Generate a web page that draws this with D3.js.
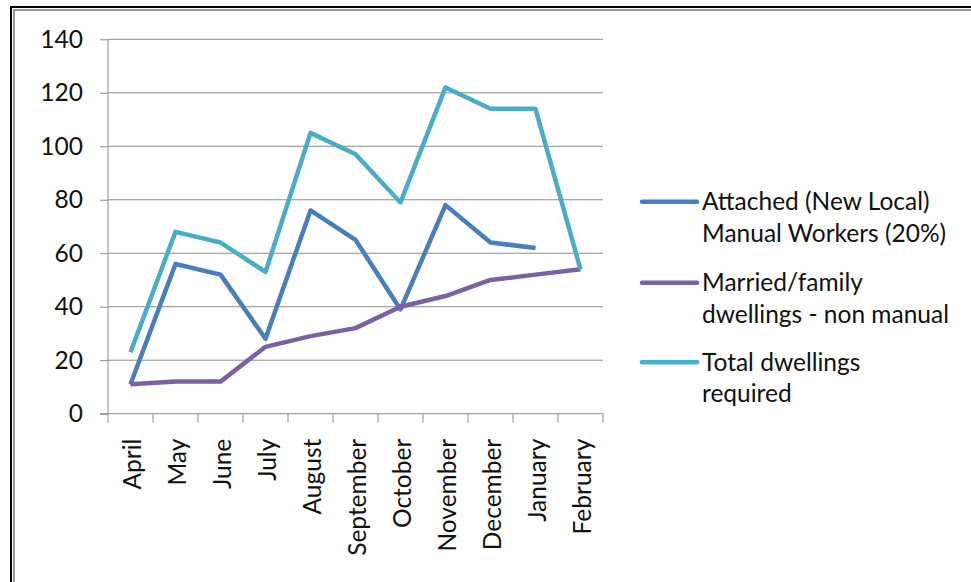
<!DOCTYPE html>
<html>
<head>
<meta charset="utf-8">
<script src="https://cdn.jsdelivr.net/npm/d3@7"></script>
<style>
  body { margin: 0; background: #fff; }
  text { font-family: Lato, "Open Sans", sans-serif; fill: #111; }
</style>
</head>
<body>
<script>
const w = 971;
const h = 582;

const months = ["April", "May", "June", "July", "August", "September",
                "October", "November", "December", "January", "February"];
const attached = [11, 56, 52, 28, 76, 65, 39, 78, 64, 62, null];
const married  = [11, 12, 12, 25, 29, 32, 40, 44, 50, 52, 54];
const total    = [23, 68, 64, 53, 105, 97, 79, 122, 114, 114, 54];
const yTicks = [0, 20, 40, 60, 80, 100, 120, 140];

const series = [
  { name: ["Attached (New Local)", "Manual Workers (20%)"], values: attached, color: "#4a7ebb" },
  { name: ["Married/family", "dwellings - non manual"], values: married, color: "#7d60a0" },
  { name: ["Total dwellings", "required"], values: total, color: "#4bacc6" }
];

const plotLeft = 108, plotRight = 603, plotTop = 39.3, plotBottom = 413.7;
const fontSize = "24.5px";

const xScale = d3.scaleBand()
                 .domain(months)
                 .range([plotLeft, plotRight]);

const yScale = d3.scaleLinear()
                 .domain([0, 140])
                 .range([plotBottom, plotTop]);

const svg = d3.select("body")
              .append("svg")
              .attr("width", w)
              .attr("height", h);

// frame
svg.append("path").attr("d", "M11,582 V7 H971").attr("fill", "none")
   .attr("stroke", "#000").attr("stroke-width", 2);
svg.append("path").attr("d", "M14,582 V10 H971").attr("fill", "none")
   .attr("stroke", "#999").attr("stroke-width", 2);

// gridlines
svg.append("g")
   .selectAll("line")
   .data(yTicks.filter(d => d > 0))
   .enter()
   .append("line")
   .attr("x1", plotLeft).attr("x2", plotRight)
   .attr("y1", d => yScale(d)).attr("y2", d => yScale(d))
   .attr("stroke", "#8c8c8c").attr("stroke-width", 1);

const yAxis = d3.axisLeft(yScale).tickValues(yTicks).tickSize(8).tickPadding(17);
const gy = svg.append("g")
   .attr("id", "y-axis")
   .attr("transform", "translate(" + plotLeft + ",0)")
   .call(yAxis);
gy.selectAll("line, path").attr("stroke", "#8c8c8c");
gy.select(".domain").attr("d", "M0," + plotTop + "V" + plotBottom);
gy.selectAll("text").style("font-size", fontSize).attr("fill", "#111");

const xAxis = d3.axisBottom(xScale).tickSize(0).tickFormat("");
const gx = svg.append("g")
   .attr("id", "x-axis")
   .attr("transform", "translate(0," + plotBottom + ")")
   .call(xAxis);
gx.select(".domain").attr("d", "M" + (plotLeft - 8) + ",0H" + plotRight).attr("stroke", "#8c8c8c");

// x tick marks at band edges
svg.append("g")
   .selectAll("line")
   .data(months.concat(["end"]))
   .enter()
   .append("line")
   .attr("x1", (d, i) => plotLeft + i * xScale.step())
   .attr("x2", (d, i) => plotLeft + i * xScale.step())
   .attr("y1", plotBottom).attr("y2", plotBottom + 9)
   .attr("stroke", "#8c8c8c");

svg.append("g")
   .selectAll("text")
   .data(months)
   .enter()
   .append("text")
   .attr("transform", d => "translate(" + (xScale(d) + xScale.bandwidth() / 2 + 2) + "," + (plotBottom + 25) + ") rotate(-90)")
   .attr("text-anchor", "end")
   .attr("dy", "0.35em")
   .style("font-size", fontSize)
   .text(d => d);

const line = d3.line()
               .defined(d => d != null)
               .x((d, i) => xScale(months[i]) + xScale.bandwidth() / 2)
               .y(d => yScale(d));

svg.append("g")
   .selectAll("path")
   .data(series)
   .enter()
   .append("path")
   .attr("d", d => line(d.values))
   .attr("fill", "none")
   .attr("stroke", d => d.color)
   .attr("stroke-width", 4.5)
   .attr("stroke-linejoin", "round");

// legend
const legendY = [201.7, 282.7, 362.3];
const lg = svg.append("g")
   .selectAll("g")
   .data(series)
   .enter()
   .append("g")
   .attr("transform", (d, i) => "translate(642," + legendY[i] + ")");
lg.append("line")
  .attr("x1", 0).attr("x2", 55)
  .attr("stroke", d => d.color).attr("stroke-width", 4.5).attr("stroke-linecap", "round");
lg.append("text")
  .style("font-size", fontSize)
  .selectAll("tspan")
  .data(d => d.name)
  .enter()
  .append("tspan")
  .attr("x", 60)
  .attr("y", (d, i) => i * 31.6)
  .attr("dy", "0.35em")
  .text(d => d);
</script>
</body>
</html>
